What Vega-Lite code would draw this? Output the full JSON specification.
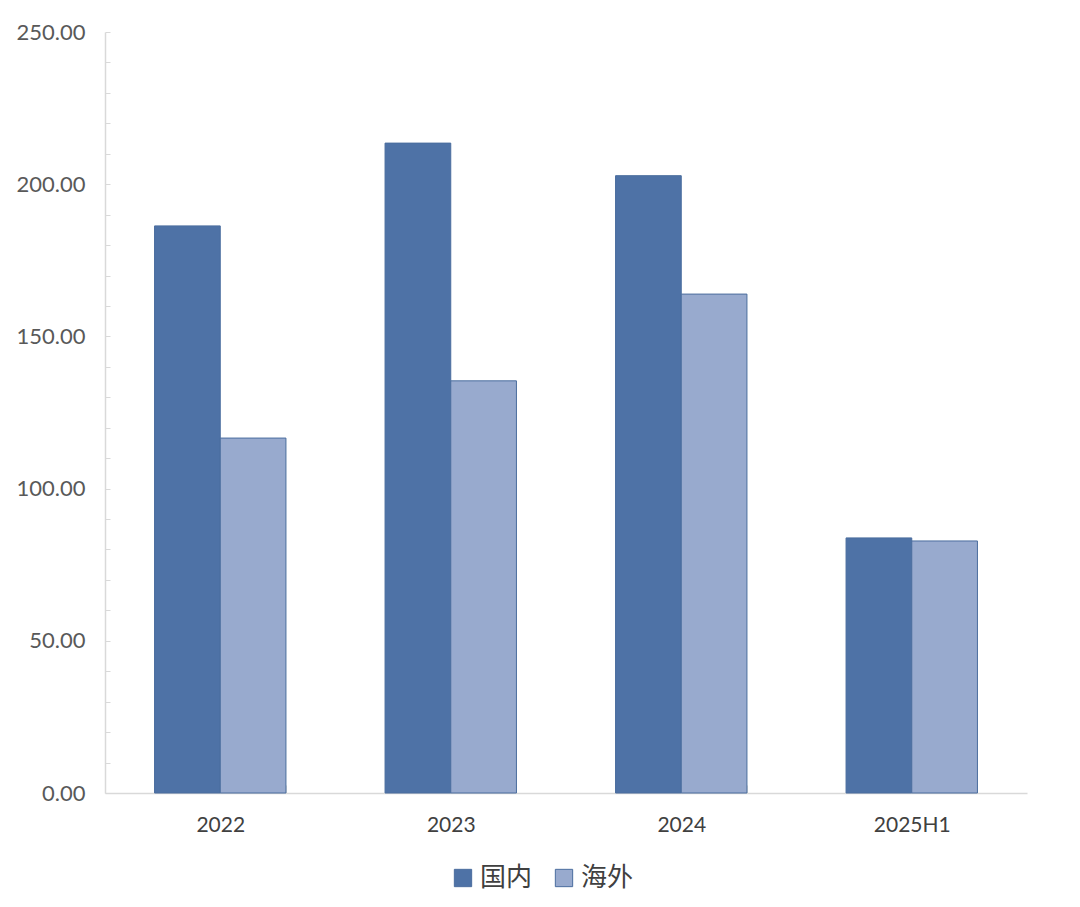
{
  "$schema": "https://vega.github.io/schema/vega-lite/v6.json",
  "autosize": "none",
  "width": 922,
  "height": 761,
  "padding": {"left": 105, "top": 32, "right": 53, "bottom": 114},
  "background": "white",
  "data": {
    "values": [
      {"year": "2022", "region": "国内", "value": 186.3},
      {"year": "2022", "region": "海外", "value": 116.6},
      {"year": "2023", "region": "国内", "value": 213.5},
      {"year": "2023", "region": "海外", "value": 135.4},
      {"year": "2024", "region": "国内", "value": 202.8},
      {"year": "2024", "region": "海外", "value": 163.9},
      {"year": "2025H1", "region": "国内", "value": 83.8},
      {"year": "2025H1", "region": "海外", "value": 82.8}
    ]
  },
  "mark": {"type": "bar", "stroke": "#4a6d9e", "strokeWidth": 1},
  "encoding": {
    "x": {
      "field": "year",
      "type": "nominal",
      "sort": null,
      "scale": {"paddingInner": 0.43, "paddingOuter": 0.215},
      "axis": {
        "title": null,
        "labelAngle": 0,
        "labelFont": "Lato",
        "labelFontSize": 21,
        "labelColor": "#404040",
        "labelPadding": 29,
        "domainColor": "#d9d9d9",
        "domainWidth": 1.5,
        "tickBand": "extent",
        "tickColor": "#d9d9d9",
        "tickSize": -8,
        "grid": false
      }
    },
    "xOffset": {"field": "region", "type": "nominal", "sort": ["国内", "海外"]},
    "y": {
      "field": "value",
      "type": "quantitative",
      "scale": {"domain": [0, 250], "nice": false},
      "axis": {
        "title": null,
        "values": [0,10,20,30,40,50,60,70,80,90,100,110,120,130,140,150,160,170,180,190,200,210,220,230,240,250],
        "labelExpr": "datum.value % 50 == 0 ? format(datum.value, '.2f') : ''",
        "labelFont": "Lato",
        "labelFontSize": 22,
        "labelColor": "#595959",
        "labelPadding": 25,
        "domainColor": "#d9d9d9",
        "domainWidth": 1.5,
        "tickColor": "#d9d9d9",
        "tickSize": -5,
        "grid": false
      }
    },
    "color": {
      "field": "region",
      "type": "nominal",
      "sort": ["国内", "海外"],
      "scale": {"domain": ["国内", "海外"], "range": ["#4e72a6", "#98aace"]},
      "legend": {
        "title": null,
        "orient": "none",
        "direction": "horizontal",
        "legendX": 345,
        "legendY": 833,
        "symbolType": "square",
        "symbolSize": 300,
        "symbolStrokeColor": "#4a6d9e",
        "symbolStrokeWidth": 1,
        "labelFont": "Noto Sans CJK SC",
        "labelFontSize": 26,
        "labelColor": "#404040",
        "labelOffset": 4,
        "columnPadding": 18
      }
    }
  },
  "config": {"view": {"stroke": null}}
}
